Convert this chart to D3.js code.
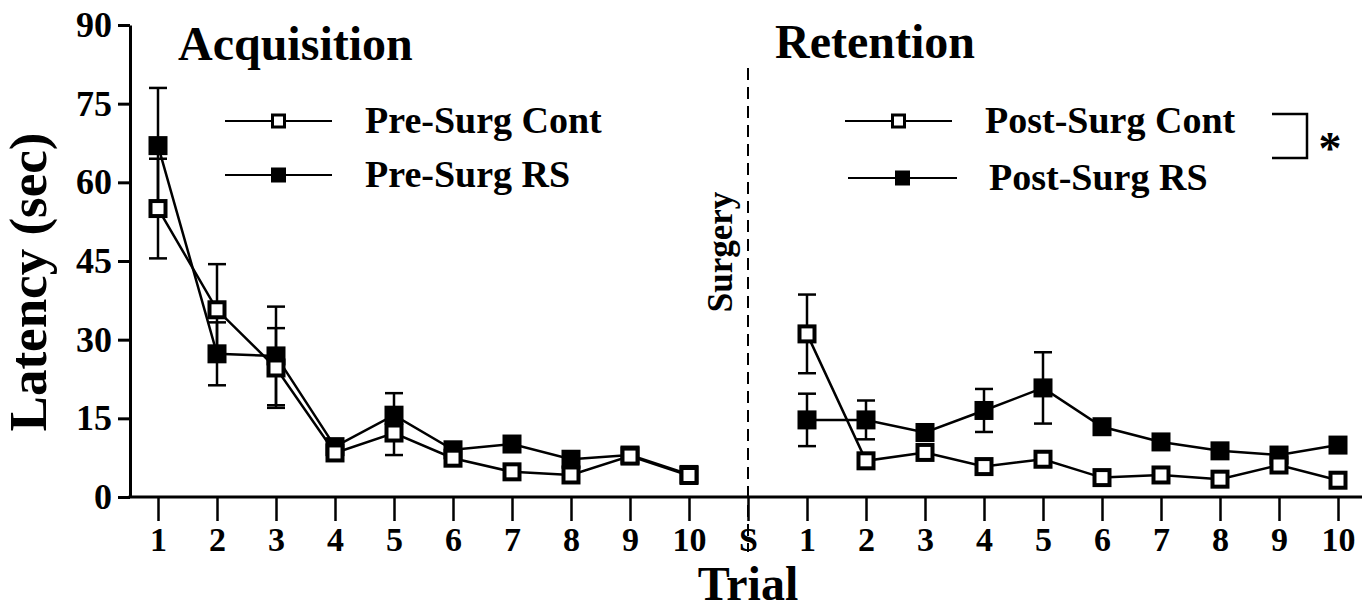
<!DOCTYPE html>
<html>
<head>
<meta charset="utf-8">
<script src="https://cdn.jsdelivr.net/npm/d3@7"></script>
<style>
  html, body { margin: 0; padding: 0; background: #fff; }
  svg text { font-family: "Liberation Serif", "Times New Roman", serif; font-weight: bold; fill: #000; }
</style>
</head>
<body>
<script>
// x positions: 10 acquisition trials, surgery, 10 retention trials
const positions = ["A1","A2","A3","A4","A5","A6","A7","A8","A9","A10","S",
                   "R1","R2","R3","R4","R5","R6","R7","R8","R9","R10"];
const tickLabels = ["1","2","3","4","5","6","7","8","9","10","S",
                    "1","2","3","4","5","6","7","8","9","10"];
const acqTrials = ["A1","A2","A3","A4","A5","A6","A7","A8","A9","A10"];
const retTrials = ["R1","R2","R3","R4","R5","R6","R7","R8","R9","R10"];
const yTicks = [0, 15, 30, 45, 60, 75, 90];

// latency (sec), mean and SEM
const preCont    = [55, 35.7, 24.6, 8.4, 12.2, 7.4, 4.8, 4.2, 7.8, 4.1];
const preContErr = [9.5, 8.7, 7.6, 1.0, 4.2, 1.0, 1.0, 1.0, 1.0, 1.0];
const preRS      = [67, 27.3, 26.9, 9.6, 15.6, 9.0, 10.1, 7.2, 8.0, 4.3];
const preRSErr   = [11, 6.0, 9.4, 1.0, 4.2, 1.0, 1.0, 1.0, 1.0, 1.0];
const postCont    = [31.1, 6.9, 8.5, 5.8, 7.2, 3.7, 4.2, 3.4, 6.1, 3.2];
const postContErr = [7.5, 1.0, 1.0, 1.0, 1.0, 1.0, 1.0, 1.0, 1.0, 1.0];
const postRS      = [14.7, 14.7, 12.3, 16.5, 20.8, 13.4, 10.5, 8.8, 8.0, 9.9];
const postRSErr   = [5.0, 3.7, 1.0, 4.1, 6.8, 1.0, 1.0, 1.0, 1.0, 1.0];

const width = 1366, height = 610;
const svg = d3.select("body").append("svg")
    .attr("width", width).attr("height", height);

const x = d3.scalePoint().domain(positions).range([158, 1338]);
const y = d3.scaleLinear().domain([0, 90]).range([497, 25]);
const xLeft = 130, xRight = 1362;

// axes
const yAxis = svg.append("g")
    .attr("transform", `translate(${xLeft},0)`)
    .call(d3.axisLeft(y).tickValues(yTicks).tickSize(12).tickSizeOuter(0).tickPadding(6));
yAxis.selectAll("path, line").attr("stroke", "#000").attr("stroke-width", 3);
yAxis.selectAll("text").style("font-size", "36px");

const xAxis = svg.append("g")
    .attr("transform", `translate(0,${y(0)})`)
    .call(d3.axisBottom(x).tickSize(24).tickSizeOuter(0).tickPadding(6)
        .tickFormat((d, i) => tickLabels[i]));
xAxis.select(".domain").remove();
xAxis.selectAll("line").attr("stroke", "#000").attr("stroke-width", 2.5);
xAxis.selectAll("text").style("font-size", "34px");
svg.append("line")
    .attr("x1", xLeft - 1.5).attr("x2", xRight)
    .attr("y1", y(0)).attr("y2", y(0))
    .attr("stroke", "#000").attr("stroke-width", 3);

// surgery divider
svg.append("line")
    .attr("x1", x("S")).attr("x2", x("S"))
    .attr("y1", 68).attr("y2", 552)
    .attr("stroke", "#000").attr("stroke-width", 2)
    .attr("stroke-dasharray", "12,7");
svg.append("text")
    .attr("transform", `translate(${x("S") - 16},252) rotate(-90)`)
    .attr("text-anchor", "middle")
    .style("font-size", "35px")
    .text("Surgery");

// axis titles
svg.append("text")
    .attr("transform", "translate(46,282) rotate(-90)")
    .attr("text-anchor", "middle")
    .style("font-size", "53px")
    .text("Latency (sec)");
svg.append("text")
    .attr("x", x("S")).attr("y", 600)
    .attr("text-anchor", "middle")
    .style("font-size", "48px")
    .text("Trial");

svg.append("text").attr("x", 178).attr("y", 60).style("font-size", "48px").text("Acquisition");
svg.append("text").attr("x", 775).attr("y", 58).style("font-size", "48px").text("Retention");

// series
const series = [
    { keys: acqTrials, mean: preRS, err: preRSErr, fill: "#000" },
    { keys: acqTrials, mean: preCont, err: preContErr, fill: "#fff" },
    { keys: retTrials, mean: postRS, err: postRSErr, fill: "#000" },
    { keys: retTrials, mean: postCont, err: postContErr, fill: "#fff" }
];

const line = d3.line().x(d => x(d.k)).y(d => y(d.v));
const capW = 9;

series.forEach(s => {
    const pts = s.keys.map((k, i) => ({ k: k, v: s.mean[i], e: s.err[i] }));
    const g = svg.append("g");
    const eb = g.selectAll(".eb").data(pts).enter().append("g")
        .attr("stroke", "#000").attr("stroke-width", 2.5);
    eb.append("line")
        .attr("x1", d => x(d.k)).attr("x2", d => x(d.k))
        .attr("y1", d => y(d.v - d.e)).attr("y2", d => y(d.v + d.e));
    eb.append("line")
        .attr("x1", d => x(d.k) - capW).attr("x2", d => x(d.k) + capW)
        .attr("y1", d => y(d.v + d.e)).attr("y2", d => y(d.v + d.e));
    eb.append("line")
        .attr("x1", d => x(d.k) - capW).attr("x2", d => x(d.k) + capW)
        .attr("y1", d => y(d.v - d.e)).attr("y2", d => y(d.v - d.e));
    s.pts = pts;
    s.g = g;
});

series.forEach(s => {
    s.g.append("path").datum(s.pts)
        .attr("d", line)
        .attr("fill", "none").attr("stroke", "#000").attr("stroke-width", 2.5);
});

series.forEach(s => {
    s.g.raise();
    s.g.selectAll("rect").data(s.pts).enter().append("rect")
        .attr("x", d => x(d.k) - 7.5).attr("y", d => y(d.v) - 7.5)
        .attr("width", 15).attr("height", 15)
        .attr("fill", s.fill).attr("stroke", "#000").attr("stroke-width", 4);
});

// legends
const legendItems = [
    { x1: 225, x2: 332, y: 121, fill: "#fff", tx: 365, ty: 133, label: "Pre-Surg Cont" },
    { x1: 225, x2: 332, y: 175, fill: "#000", tx: 365, ty: 187, label: "Pre-Surg RS" },
    { x1: 845, x2: 952, y: 121, fill: "#fff", tx: 985, ty: 133, label: "Post-Surg Cont" },
    { x1: 848, x2: 957, y: 178, fill: "#000", tx: 989, ty: 190, label: "Post-Surg RS" }
];
const lg = svg.append("g");
legendItems.forEach(d => {
    lg.append("line").attr("x1", d.x1).attr("x2", d.x2).attr("y1", d.y).attr("y2", d.y)
        .attr("stroke", "#000").attr("stroke-width", 2);
    const cx = (d.x1 + d.x2) / 2;
    lg.append("rect").attr("x", cx - 6).attr("y", d.y - 6).attr("width", 12).attr("height", 12)
        .attr("fill", d.fill).attr("stroke", "#000").attr("stroke-width", 3);
    lg.append("text").attr("x", d.tx).attr("y", d.ty).style("font-size", "38px").text(d.label);
});

// significance bracket
lg.append("path")
    .attr("d", "M1272,114H1307V158H1272")
    .attr("fill", "none").attr("stroke", "#000").attr("stroke-width", 2.5);
lg.append("text").attr("x", 1330).attr("y", 164)
    .attr("text-anchor", "middle").style("font-size", "46px").text("*");
</script>
</body>
</html>
